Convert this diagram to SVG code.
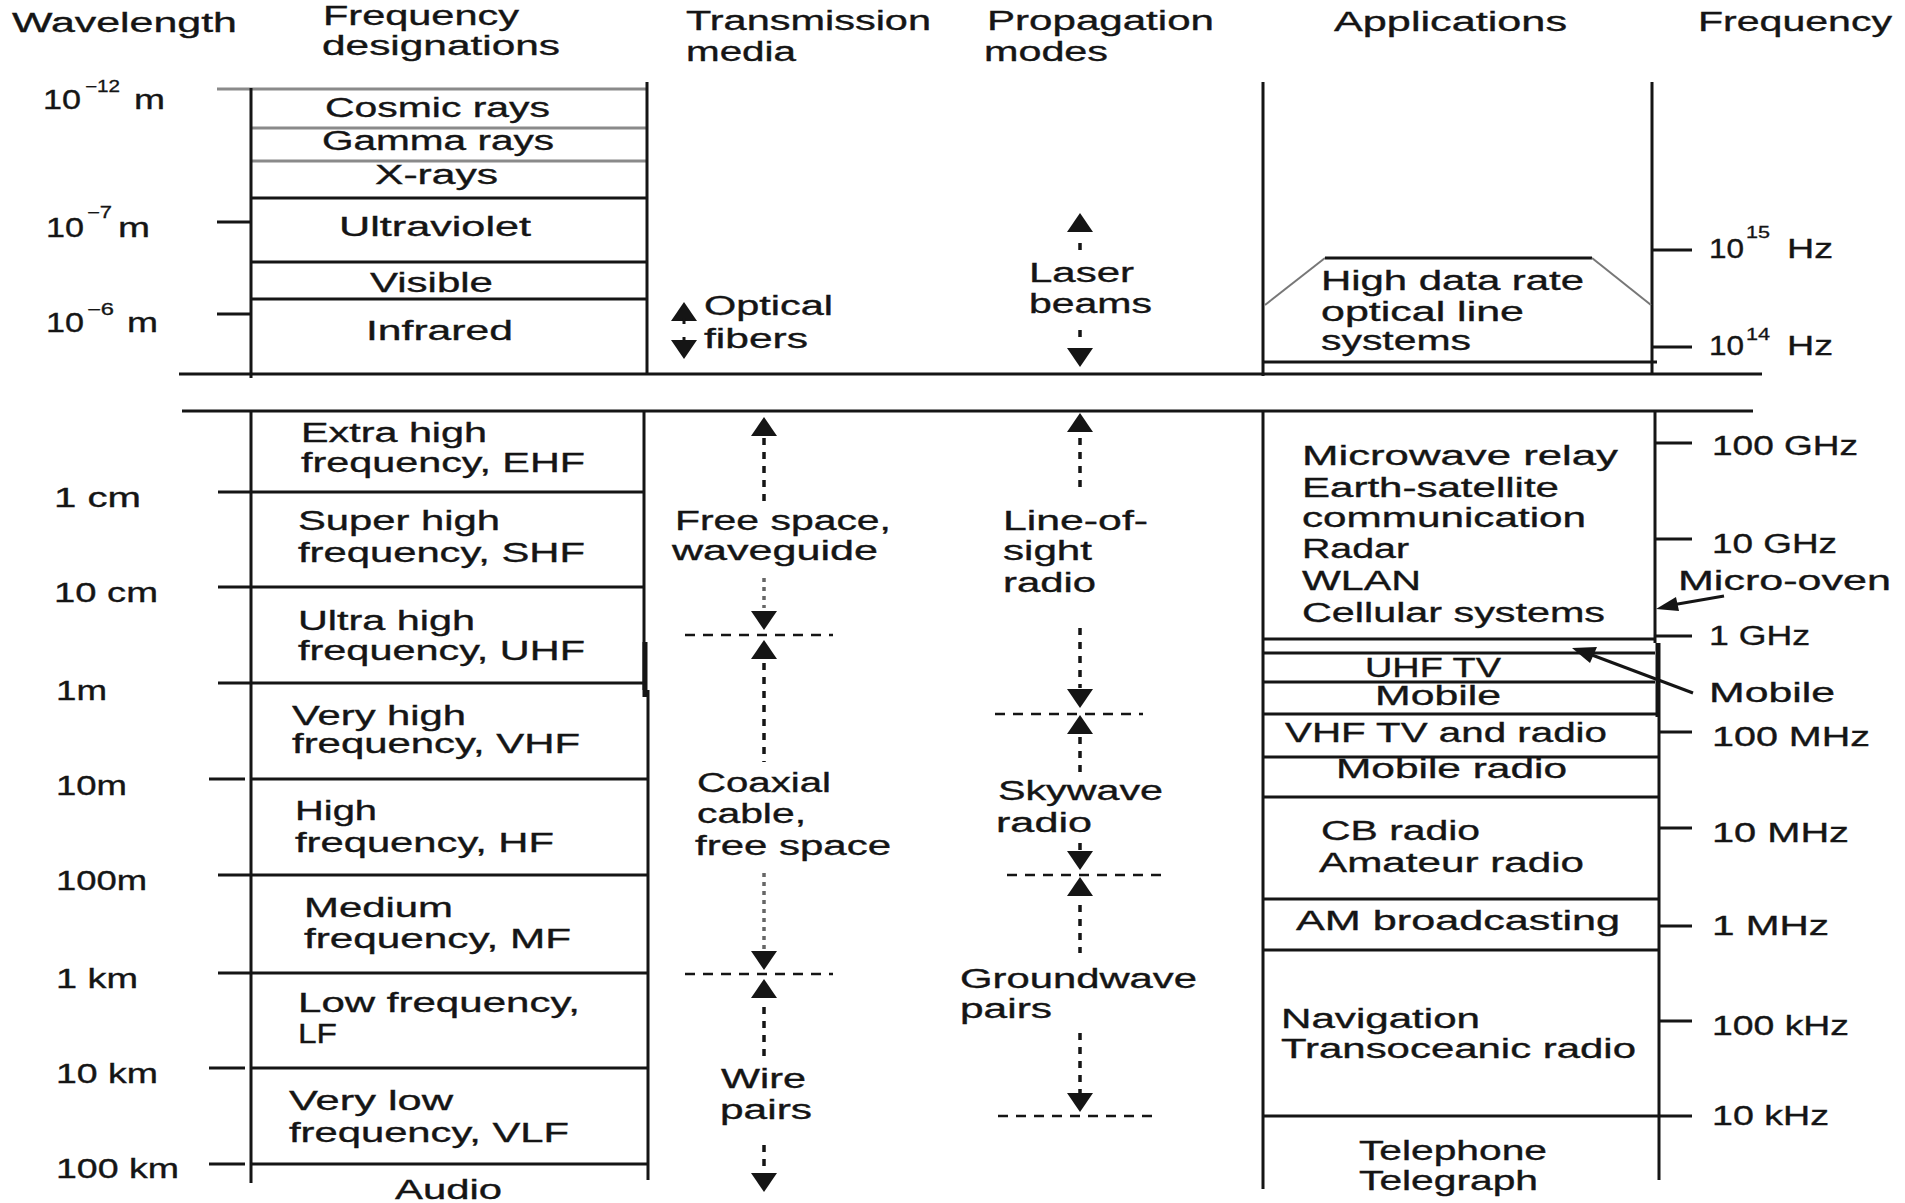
<svg xmlns="http://www.w3.org/2000/svg" width="1905" height="1203" viewBox="0 0 1905 1203">
<style>
.t{font-family:"Liberation Sans",Arial,sans-serif;font-size:27px;fill:#151515;stroke:#151515;stroke-width:0.35}
.s{font-family:"Liberation Sans",Arial,sans-serif;font-size:16px;fill:#151515;stroke:#151515;stroke-width:0.3}
.l{stroke:#151515;stroke-width:3;fill:none}
.g{stroke:#8a8a8a;stroke-width:3;fill:none}
.th{stroke:#151515;stroke-width:5;fill:none}
.dg{stroke:#777;stroke-width:2;fill:none}
.vd{stroke:#151515;stroke-width:3.5;stroke-dasharray:7 7;fill:none}
.vp{stroke:#666;stroke-width:3.5;stroke-dasharray:4 5;fill:none}
.hd{stroke:#151515;stroke-width:2.5;stroke-dasharray:10 8;fill:none}
.ah{fill:#151515}
</style>
<defs>
<path id="up" d="M0,0 L13,19 L-13,19 Z"/>
<path id="dn" d="M0,0 L13,-19 L-13,-19 Z"/>
</defs>
<rect width="1905" height="1203" fill="#fff"/>

<g id="headers">
<text class="t" x="12" y="32" textLength="225" lengthAdjust="spacingAndGlyphs">Wavelength</text>
<text class="t" x="323" y="25" textLength="196" lengthAdjust="spacingAndGlyphs">Frequency</text>
<text class="t" x="322" y="55" textLength="238" lengthAdjust="spacingAndGlyphs">designations</text>
<text class="t" x="686" y="30" textLength="245" lengthAdjust="spacingAndGlyphs">Transmission</text>
<text class="t" x="686" y="61" textLength="110" lengthAdjust="spacingAndGlyphs">media</text>
<text class="t" x="987" y="30" textLength="227" lengthAdjust="spacingAndGlyphs">Propagation</text>
<text class="t" x="984" y="61" textLength="124" lengthAdjust="spacingAndGlyphs">modes</text>
<text class="t" x="1334" y="31" textLength="233" lengthAdjust="spacingAndGlyphs">Applications</text>
<text class="t" x="1698" y="31" textLength="194" lengthAdjust="spacingAndGlyphs">Frequency</text>
</g>

<g id="wavelength">
<text class="t" x="43" y="109" textLength="38" lengthAdjust="spacingAndGlyphs">10</text>
<text class="s" x="85" y="92" textLength="35" lengthAdjust="spacingAndGlyphs">−12</text>
<text class="t" x="134" y="109" textLength="31" lengthAdjust="spacingAndGlyphs">m</text>
<text class="t" x="46" y="237" textLength="38" lengthAdjust="spacingAndGlyphs">10</text>
<text class="s" x="87" y="218" textLength="25" lengthAdjust="spacingAndGlyphs">−7</text>
<text class="t" x="118" y="237" textLength="32" lengthAdjust="spacingAndGlyphs">m</text>
<text class="t" x="46" y="332" textLength="38" lengthAdjust="spacingAndGlyphs">10</text>
<text class="s" x="87" y="315" textLength="27" lengthAdjust="spacingAndGlyphs">−6</text>
<text class="t" x="127" y="332" textLength="31" lengthAdjust="spacingAndGlyphs">m</text>
<text class="t" x="54" y="507" textLength="87" lengthAdjust="spacingAndGlyphs">1 cm</text>
<text class="t" x="54" y="602" textLength="104" lengthAdjust="spacingAndGlyphs">10 cm</text>
<text class="t" x="56" y="700" textLength="51" lengthAdjust="spacingAndGlyphs">1m</text>
<text class="t" x="56" y="795" textLength="71" lengthAdjust="spacingAndGlyphs">10m</text>
<text class="t" x="56" y="890" textLength="91" lengthAdjust="spacingAndGlyphs">100m</text>
<text class="t" x="56" y="988" textLength="82" lengthAdjust="spacingAndGlyphs">1 km</text>
<text class="t" x="56" y="1083" textLength="102" lengthAdjust="spacingAndGlyphs">10 km</text>
<text class="t" x="56" y="1178" textLength="123" lengthAdjust="spacingAndGlyphs">100 km</text>
<line class="l" x1="217" y1="222" x2="251" y2="222"/>
<line class="l" x1="217" y1="314" x2="251" y2="314"/>
<line class="l" x1="218" y1="492" x2="251" y2="492"/>
<line class="l" x1="218" y1="587" x2="251" y2="587"/>
<line class="l" x1="218" y1="683" x2="251" y2="683"/>
<line class="l" x1="209" y1="779" x2="245" y2="779"/>
<line class="l" x1="218" y1="875" x2="251" y2="875"/>
<line class="l" x1="218" y1="973" x2="251" y2="973"/>
<line class="l" x1="209" y1="1068" x2="245" y2="1068"/>
<line class="l" x1="209" y1="1164" x2="245" y2="1164"/>
</g>

<g id="designations">
<line class="g" x1="217" y1="89" x2="647" y2="89"/>
<line class="g" x1="251" y1="128" x2="647" y2="128"/>
<line class="g" x1="251" y1="161" x2="647" y2="161"/>
<line class="l" x1="251" y1="198" x2="647" y2="198"/>
<line class="l" x1="251" y1="262" x2="647" y2="262"/>
<line class="l" x1="251" y1="299" x2="647" y2="299"/>
<line class="l" x1="251" y1="88" x2="251" y2="378"/>
<line class="l" x1="647" y1="82" x2="647" y2="373"/>
<text class="t" x="325" y="117" textLength="225" lengthAdjust="spacingAndGlyphs">Cosmic rays</text>
<text class="t" x="322" y="150" textLength="232" lengthAdjust="spacingAndGlyphs">Gamma rays</text>
<text class="t" x="375" y="184" textLength="123" lengthAdjust="spacingAndGlyphs">X-rays</text>
<text class="t" x="339" y="236" textLength="192" lengthAdjust="spacingAndGlyphs">Ultraviolet</text>
<text class="t" x="370" y="292" textLength="123" lengthAdjust="spacingAndGlyphs">Visible</text>
<text class="t" x="366" y="340" textLength="147" lengthAdjust="spacingAndGlyphs">Infrared</text>

<line class="l" x1="251" y1="411" x2="251" y2="1183"/>
<line class="l" x1="644" y1="411" x2="644" y2="690"/>
<line class="th" x1="645" y1="642" x2="645" y2="697"/>
<line class="l" x1="648" y1="690" x2="648" y2="1180"/>
<line class="l" x1="251" y1="492" x2="644" y2="492"/>
<line class="l" x1="251" y1="587" x2="644" y2="587"/>
<line class="l" x1="251" y1="683" x2="646" y2="683"/>
<line class="l" x1="251" y1="779" x2="648" y2="779"/>
<line class="l" x1="251" y1="875" x2="648" y2="875"/>
<line class="l" x1="251" y1="973" x2="648" y2="973"/>
<line class="l" x1="251" y1="1068" x2="648" y2="1068"/>
<line class="l" x1="251" y1="1164" x2="648" y2="1164"/>
<text class="t" x="301" y="442" textLength="186" lengthAdjust="spacingAndGlyphs">Extra high</text>
<text class="t" x="301" y="472" textLength="284" lengthAdjust="spacingAndGlyphs">frequency, EHF</text>
<text class="t" x="298" y="530" textLength="202" lengthAdjust="spacingAndGlyphs">Super high</text>
<text class="t" x="298" y="562" textLength="287" lengthAdjust="spacingAndGlyphs">frequency, SHF</text>
<text class="t" x="298" y="630" textLength="177" lengthAdjust="spacingAndGlyphs">Ultra high</text>
<text class="t" x="298" y="660" textLength="287" lengthAdjust="spacingAndGlyphs">frequency, UHF</text>
<text class="t" x="292" y="725" textLength="174" lengthAdjust="spacingAndGlyphs">Very high</text>
<text class="t" x="292" y="753" textLength="288" lengthAdjust="spacingAndGlyphs">frequency, VHF</text>
<text class="t" x="295" y="820" textLength="82" lengthAdjust="spacingAndGlyphs">High</text>
<text class="t" x="295" y="852" textLength="259" lengthAdjust="spacingAndGlyphs">frequency, HF</text>
<text class="t" x="304" y="917" textLength="149" lengthAdjust="spacingAndGlyphs">Medium</text>
<text class="t" x="304" y="948" textLength="267" lengthAdjust="spacingAndGlyphs">frequency, MF</text>
<text class="t" x="298" y="1012" textLength="282" lengthAdjust="spacingAndGlyphs">Low frequency,</text>
<text class="t" x="298" y="1043" textLength="39" lengthAdjust="spacingAndGlyphs">LF</text>
<text class="t" x="289" y="1110" textLength="164" lengthAdjust="spacingAndGlyphs">Very low</text>
<text class="t" x="289" y="1142" textLength="280" lengthAdjust="spacingAndGlyphs">frequency, VLF</text>
<text class="t" x="395" y="1199" textLength="107" lengthAdjust="spacingAndGlyphs">Audio</text>
</g>

<g id="dividers">
<line class="l" x1="179" y1="374" x2="1762" y2="374"/>
<line class="l" x1="182" y1="411" x2="1753" y2="411"/>
</g>

<g id="media">
<text class="t" x="704" y="315" textLength="129" lengthAdjust="spacingAndGlyphs">Optical</text>
<text class="t" x="704" y="348" textLength="104" lengthAdjust="spacingAndGlyphs">fibers</text>
<text class="t" x="675" y="530" textLength="216" lengthAdjust="spacingAndGlyphs">Free space,</text>
<text class="t" x="672" y="560" textLength="206" lengthAdjust="spacingAndGlyphs">waveguide</text>
<text class="t" x="697" y="792" textLength="134" lengthAdjust="spacingAndGlyphs">Coaxial</text>
<text class="t" x="697" y="823" textLength="109" lengthAdjust="spacingAndGlyphs">cable,</text>
<text class="t" x="695" y="855" textLength="196" lengthAdjust="spacingAndGlyphs">free space</text>
<text class="t" x="721" y="1088" textLength="85" lengthAdjust="spacingAndGlyphs">Wire</text>
<text class="t" x="720" y="1119" textLength="92" lengthAdjust="spacingAndGlyphs">pairs</text>
</g>

<g id="propagation">
<text class="t" x="1029" y="282" textLength="105" lengthAdjust="spacingAndGlyphs">Laser</text>
<text class="t" x="1029" y="313" textLength="123" lengthAdjust="spacingAndGlyphs">beams</text>
<text class="t" x="1003" y="530" textLength="145" lengthAdjust="spacingAndGlyphs">Line-of-</text>
<text class="t" x="1003" y="560" textLength="89" lengthAdjust="spacingAndGlyphs">sight</text>
<text class="t" x="1003" y="592" textLength="93" lengthAdjust="spacingAndGlyphs">radio</text>
<text class="t" x="998" y="800" textLength="165" lengthAdjust="spacingAndGlyphs">Skywave</text>
<text class="t" x="996" y="832" textLength="96" lengthAdjust="spacingAndGlyphs">radio</text>
<text class="t" x="960" y="988" textLength="237" lengthAdjust="spacingAndGlyphs">Groundwave</text>
<text class="t" x="960" y="1018" textLength="92" lengthAdjust="spacingAndGlyphs">pairs</text>
</g>

<g id="applications">
<line class="l" x1="1263" y1="82" x2="1263" y2="376"/>
<line class="l" x1="1652" y1="82" x2="1652" y2="374"/>
<polyline class="dg" points="1265,305 1325,258"/>
<line class="l" x1="1325" y1="258" x2="1592" y2="258"/>
<polyline class="dg" points="1592,258 1651,305"/>
<line class="l" x1="1263" y1="362" x2="1657" y2="362"/>
<text class="t" x="1321" y="290" textLength="263" lengthAdjust="spacingAndGlyphs">High data rate</text>
<text class="t" x="1321" y="321" textLength="203" lengthAdjust="spacingAndGlyphs">optical line</text>
<text class="t" x="1321" y="350" textLength="150" lengthAdjust="spacingAndGlyphs">systems</text>

<line class="l" x1="1263" y1="411" x2="1263" y2="1189"/>
<line class="l" x1="1655" y1="411" x2="1655" y2="643"/>
<line class="th" x1="1658" y1="643" x2="1658" y2="717"/>
<line class="l" x1="1659" y1="717" x2="1659" y2="1180"/>
<line class="l" x1="1263" y1="639" x2="1655" y2="639"/>
<line class="l" x1="1263" y1="653" x2="1655" y2="653"/>
<line class="l" x1="1263" y1="682" x2="1655" y2="682"/>
<line class="l" x1="1263" y1="714" x2="1659" y2="714"/>
<line class="l" x1="1263" y1="757" x2="1659" y2="757"/>
<line class="l" x1="1263" y1="797" x2="1659" y2="797"/>
<line class="l" x1="1263" y1="899" x2="1659" y2="899"/>
<line class="l" x1="1263" y1="950" x2="1659" y2="950"/>
<line class="l" x1="1263" y1="1116" x2="1692" y2="1116"/>
<text class="t" x="1302" y="465" textLength="316" lengthAdjust="spacingAndGlyphs">Microwave relay</text>
<text class="t" x="1302" y="497" textLength="257" lengthAdjust="spacingAndGlyphs">Earth-satellite</text>
<text class="t" x="1302" y="527" textLength="284" lengthAdjust="spacingAndGlyphs">communication</text>
<text class="t" x="1302" y="558" textLength="107" lengthAdjust="spacingAndGlyphs">Radar</text>
<text class="t" x="1302" y="590" textLength="119" lengthAdjust="spacingAndGlyphs">WLAN</text>
<text class="t" x="1302" y="622" textLength="303" lengthAdjust="spacingAndGlyphs">Cellular systems</text>
<text class="t" x="1365" y="677" textLength="136" lengthAdjust="spacingAndGlyphs">UHF TV</text>
<text class="t" x="1375" y="705" textLength="126" lengthAdjust="spacingAndGlyphs">Mobile</text>
<text class="t" x="1285" y="742" textLength="322" lengthAdjust="spacingAndGlyphs">VHF TV and radio</text>
<text class="t" x="1336" y="778" textLength="231" lengthAdjust="spacingAndGlyphs">Mobile radio</text>
<text class="t" x="1321" y="840" textLength="159" lengthAdjust="spacingAndGlyphs">CB radio</text>
<text class="t" x="1319" y="872" textLength="265" lengthAdjust="spacingAndGlyphs">Amateur radio</text>
<text class="t" x="1296" y="930" textLength="324" lengthAdjust="spacingAndGlyphs">AM broadcasting</text>
<text class="t" x="1281" y="1028" textLength="199" lengthAdjust="spacingAndGlyphs">Navigation</text>
<text class="t" x="1281" y="1058" textLength="355" lengthAdjust="spacingAndGlyphs">Transoceanic radio</text>
<text class="t" x="1359" y="1160" textLength="188" lengthAdjust="spacingAndGlyphs">Telephone</text>
<text class="t" x="1359" y="1190" textLength="179" lengthAdjust="spacingAndGlyphs">Telegraph</text>
</g>

<g id="frequency">
<line class="l" x1="1652" y1="250" x2="1692" y2="250"/>
<line class="l" x1="1652" y1="347" x2="1692" y2="347"/>
<line class="l" x1="1655" y1="443" x2="1692" y2="443"/>
<line class="l" x1="1655" y1="539" x2="1692" y2="539"/>
<line class="l" x1="1655" y1="636" x2="1692" y2="636"/>
<line class="l" x1="1659" y1="732" x2="1692" y2="732"/>
<line class="l" x1="1659" y1="828" x2="1692" y2="828"/>
<line class="l" x1="1659" y1="926" x2="1692" y2="926"/>
<line class="l" x1="1659" y1="1021" x2="1692" y2="1021"/>
<text class="t" x="1709" y="258" textLength="35" lengthAdjust="spacingAndGlyphs">10</text>
<text class="s" x="1746" y="238" textLength="24" lengthAdjust="spacingAndGlyphs">15</text>
<text class="t" x="1787" y="258" textLength="46" lengthAdjust="spacingAndGlyphs">Hz</text>
<text class="t" x="1709" y="355" textLength="35" lengthAdjust="spacingAndGlyphs">10</text>
<text class="s" x="1746" y="340" textLength="24" lengthAdjust="spacingAndGlyphs">14</text>
<text class="t" x="1787" y="355" textLength="46" lengthAdjust="spacingAndGlyphs">Hz</text>
<text class="t" x="1712" y="455" textLength="146" lengthAdjust="spacingAndGlyphs">100 GHz</text>
<text class="t" x="1712" y="553" textLength="125" lengthAdjust="spacingAndGlyphs">10 GHz</text>
<text class="t" x="1678" y="590" textLength="213" lengthAdjust="spacingAndGlyphs">Micro-oven</text>
<text class="t" x="1709" y="645" textLength="101" lengthAdjust="spacingAndGlyphs">1 GHz</text>
<text class="t" x="1709" y="702" textLength="126" lengthAdjust="spacingAndGlyphs">Mobile</text>
<text class="t" x="1712" y="746" textLength="158" lengthAdjust="spacingAndGlyphs">100 MHz</text>
<text class="t" x="1712" y="842" textLength="137" lengthAdjust="spacingAndGlyphs">10 MHz</text>
<text class="t" x="1712" y="935" textLength="117" lengthAdjust="spacingAndGlyphs">1 MHz</text>
<text class="t" x="1712" y="1035" textLength="137" lengthAdjust="spacingAndGlyphs">100 kHz</text>
<text class="t" x="1712" y="1125" textLength="117" lengthAdjust="spacingAndGlyphs">10 kHz</text>
</g>

<g id="connectors">
<use href="#up" class="ah" x="684" y="302"/>
<line class="l" x1="684" y1="318" x2="684" y2="324"/>
<line class="l" x1="684" y1="337" x2="684" y2="346"/>
<use href="#dn" class="ah" x="684" y="359"/>
<use href="#up" class="ah" x="1080" y="213"/>
<line class="vd" x1="1080" y1="243" x2="1080" y2="251"/>
<line class="vd" x1="1080" y1="330" x2="1080" y2="337"/>
<use href="#dn" class="ah" x="1080" y="367"/>
<use href="#up" class="ah" x="764" y="417"/>
<line class="vd" x1="764" y1="438" x2="764" y2="502"/>
<line class="vp" x1="764" y1="578" x2="764" y2="608"/>
<use href="#dn" class="ah" x="764" y="630"/>
<line class="hd" x1="685" y1="635" x2="833" y2="635"/>
<use href="#up" class="ah" x="764" y="640"/>
<line class="vd" x1="764" y1="663" x2="764" y2="762"/>
<line class="vp" x1="764" y1="873" x2="764" y2="950"/>
<use href="#dn" class="ah" x="764" y="970"/>
<line class="hd" x1="685" y1="974" x2="833" y2="974"/>
<use href="#up" class="ah" x="764" y="979"/>
<line class="vd" x1="764" y1="1007" x2="764" y2="1060"/>
<line class="vd" x1="764" y1="1145" x2="764" y2="1166"/>
<use href="#dn" class="ah" x="764" y="1192"/>
<use href="#up" class="ah" x="1080" y="413"/>
<line class="vd" x1="1080" y1="438" x2="1080" y2="488"/>
<line class="vd" x1="1080" y1="628" x2="1080" y2="688"/>
<use href="#dn" class="ah" x="1080" y="708"/>
<line class="hd" x1="995" y1="714" x2="1143" y2="714"/>
<use href="#up" class="ah" x="1080" y="715"/>
<line class="vd" x1="1080" y1="737" x2="1080" y2="773"/>
<line class="vd" x1="1080" y1="843" x2="1080" y2="852"/>
<use href="#dn" class="ah" x="1080" y="870"/>
<line class="hd" x1="1007" y1="875" x2="1161" y2="875"/>
<use href="#up" class="ah" x="1080" y="877"/>
<line class="vd" x1="1080" y1="905" x2="1080" y2="953"/>
<line class="vd" x1="1080" y1="1033" x2="1080" y2="1094"/>
<use href="#dn" class="ah" x="1080" y="1112"/>
<line class="hd" x1="998" y1="1116" x2="1152" y2="1116"/>
<line class="l" x1="1724" y1="596" x2="1672" y2="605"/>
<path class="ah" d="M1656,609 L1676,597 L1679,611 Z"/>
<line class="l" x1="1693" y1="693" x2="1592" y2="655"/>
<path class="ah" d="M1572,648 L1597,647 L1590,663 Z"/>
</g>
</svg>
